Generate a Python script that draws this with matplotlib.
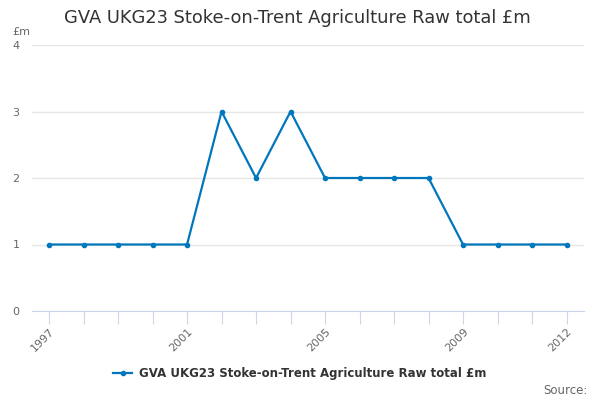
import matplotlib.pyplot as plt
from matplotlib.lines import Line2D

years = list(range(1997, 2013))
values = [1, 1, 1, 1, 1, 3, 2, 3, 2, 2, 2, 2, 1, 1, 1, 1]
label_years = [1997, 2001, 2005, 2009, 2012]
series_name = "GVA UKG23 Stoke-on-Trent Agriculture Raw total £m"

line_color = "#0077bc"
text_gray = "#666666"

fig = plt.figure(figsize=(6, 4), dpi=100)
ax = fig.add_axes([0.053, 0.2225, 0.92, 0.665])

ax.plot(years, values, color=line_color, linewidth=1.6, marker="o",
        markersize=3, zorder=3, clip_on=False)

ax.set_xlim(1996.5, 2012.5)
ax.set_ylim(0, 4)
ax.set_yticks([0, 1, 2, 3, 4])
ax.yaxis.grid(True, color="#e6e6e6", linewidth=1)
ax.set_axisbelow(True)

ax.set_xticks(years)
ax.set_xticklabels([str(y) if y in label_years else "" for y in years],
                   rotation=45, ha="right", rotation_mode="anchor")
ax.tick_params(axis="x", length=9, color="#ccd6eb", labelcolor=text_gray,
               labelsize=8, pad=2)
ax.tick_params(axis="y", length=0, labelcolor=text_gray, labelsize=8, pad=14)
for lab in ax.get_yticklabels():
    lab.set_horizontalalignment("left")

for side in ["top", "right", "left"]:
    ax.spines[side].set_visible(False)
ax.spines["bottom"].set_color("#ccd6eb")

fig.text(0.495, 0.955, series_name, ha="center", va="center",
         fontsize=12.9, color="#333333")
fig.text(0.02, 0.92, "£m", ha="left", va="center", fontsize=8, color=text_gray)

handle = Line2D([], [], color=line_color, linewidth=1.6, marker="o", markersize=3)
fig.legend([handle], [series_name], loc="center", bbox_to_anchor=(0.5, 0.067),
           frameon=False, prop={"weight": "bold", "size": 8.5},
           handlelength=1.6, handletextpad=0.6, labelcolor="#333333")

fig.text(0.98, 0.025, "Source:", ha="right", va="center", fontsize=8.5, color=text_gray)

fig.savefig("out.png", dpi=100)
